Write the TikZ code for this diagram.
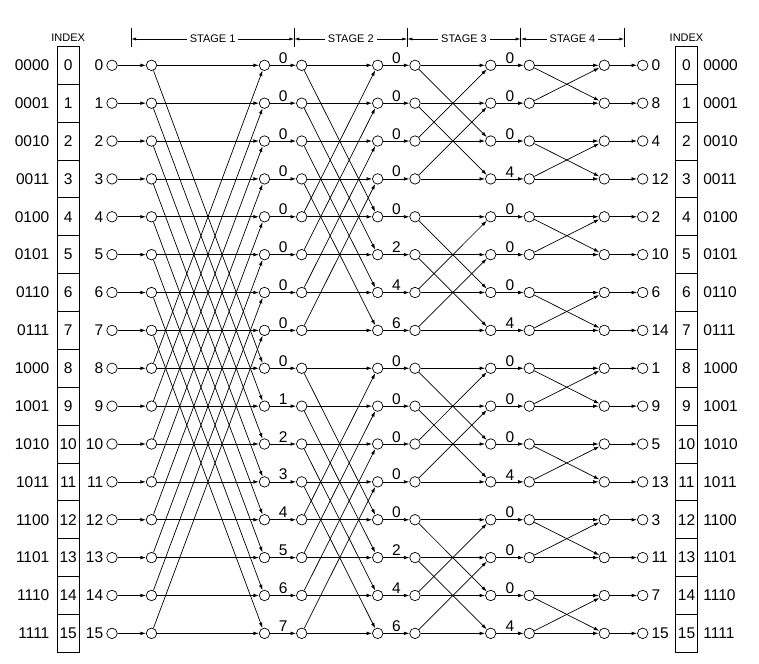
\documentclass[tikz,border=0pt]{standalone}
\usepackage{fontspec}
\setmainfont{Liberation Sans}
\usetikzlibrary{
  arrows.meta,
  positioning,
}
\tikzstyle{flow} = [
  -{Latex[length=5.5pt,width=3.6pt]},
  line width=0.7pt,
]
\tikzstyle{span} = [
  {Latex[length=5pt,width=3pt]}-{Latex[length=5pt,width=3pt]},
  line width=0.7pt,
]

\begin{document}
\begin{tikzpicture}[x=1pt, y=-1pt,
    dot/.style={draw, circle, line width=0.7pt, minimum size=10.5pt,
                inner sep=0pt},
    cell/.style={draw, line width=0.8pt, minimum width=22.5pt,
                 minimum height=37.87pt, inner sep=0pt,
                 font=\fontsize{15.5}{18}\selectfont},
    num/.style={inner sep=0pt, font=\fontsize{15.5}{18}\selectfont},
    wt/.style={above, inner sep=1.5pt, font=\fontsize{15.5}{18}\selectfont},
    hdr/.style={inner sep=0pt, font=\fontsize{11}{13}\selectfont}]
  \useasboundingbox (0,0) rectangle (759,663);
  % points of the flow graph
  \foreach \c/\x in {0/112, 1/151.5, 2/264.5, 3/301.7, 4/377.7,
                     5/415, 6/490.7, 7/529.3, 8/604.3, 9/642.7}
    \foreach \r in {0,...,15}
      \node [dot] (p\c-\r) at (\x, 65.3+37.87*\r) {};
  % index columns
  \foreach \r/\bin/\out in {0/0000/0, 1/0001/8, 2/0010/4, 3/0011/12,
                            4/0100/2, 5/0101/10, 6/0110/6, 7/0111/14,
                            8/1000/1, 9/1001/9, 10/1010/5, 11/1011/13,
                            12/1100/3, 13/1101/11, 14/1110/7, 15/1111/15} {
    \node [cell] (li-\r) at (68.2, 65.3+37.87*\r) {\r};
    \node [cell] (ri-\r) at (686.5, 65.3+37.87*\r) {\r};
    \node [num, left=7pt of li-\r] {\bin};
    \node [num, right=5pt of ri-\r] {\bin};
    \node [num, left=3pt of p0-\r] {\r};
    \node [num, right=3pt of p9-\r] {\out};
  }
  \node [hdr, above=4pt of li-0] {INDEX};
  \node [hdr, above=4pt of ri-0] {INDEX};
  % stages
  \foreach \t/\x in {0/131, 1/294.3, 2/407.3, 3/520.7, 4/624.3} {
    \draw [line width=0.7pt] (\x,28) -- (\x,47);
    \coordinate (t\t) at (\x,39);
  }
  \foreach \a/\b/\s in {t0/t1/1, t1/t2/2, t2/t3/3, t3/t4/4}
    \draw [span] (\a) -- node [hdr, fill=white, inner sep=3pt] {STAGE \s} (\b);
  % in and out
  \foreach \r in {0,...,15} {
    \draw [flow] (p0-\r) -- (p1-\r);
    \draw [flow] (p8-\r) -- (p9-\r);
  }
  % butterflies
  \foreach \s/\k in {1/8, 2/4, 3/2, 4/1} {
    \pgfmathtruncatemacro\cl{2*\s-1}
    \pgfmathtruncatemacro\cr{2*\s}
    \foreach \r in {0,...,15} {
      \pgfmathtruncatemacro\q{mod(floor(\r/\k),2)==0 ? \r+\k : \r-\k}
      \draw [flow] (p\cl-\r) -- (p\cr-\r);
      \draw [flow] (p\cl-\r) -- (p\cr-\q);
    }
  }
  % twiddle factors
  \foreach \r/\wa/\wb/\wc in {0/0/0/0, 1/0/0/0, 2/0/0/0, 3/0/0/4,
                              4/0/0/0, 5/0/2/0, 6/0/4/0, 7/0/6/4,
                              8/0/0/0, 9/1/0/0, 10/2/0/0, 11/3/0/4,
                              12/4/0/0, 13/5/2/0, 14/6/4/0, 15/7/6/4} {
    \draw [flow] (p2-\r) -- node [wt] {\wa} (p3-\r);
    \draw [flow] (p4-\r) -- node [wt] {\wb} (p5-\r);
    \draw [flow] (p6-\r) -- node [wt] {\wc} (p7-\r);
  }
\end{tikzpicture}
\end{document}
